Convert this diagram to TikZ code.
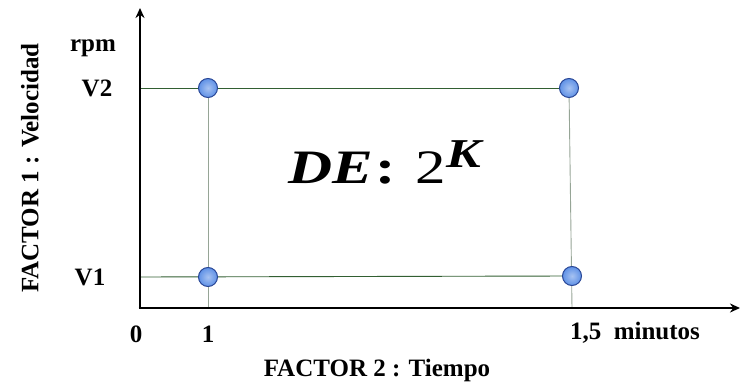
\documentclass[tikz,border=0pt]{standalone}
\usepackage{fontspec}
\setmainfont{Liberation Serif}
\usetikzlibrary{arrows.meta}
\definecolor{ptfill}{RGB}{95,145,230}
\definecolor{ptdraw}{RGB}{40,70,150}
\definecolor{hline}{RGB}{50,95,50}
\definecolor{vline}{RGB}{150,165,150}
\tikzset{
  pt/.style={circle,minimum size=19pt,inner sep=0pt,draw=ptdraw,line width=1pt,inner color=ptfill!55!white,outer color=ptfill},
  lab/.style={font=\fontsize{25}{27}\selectfont\bfseries,inner sep=0pt},
  axis/.style={line width=2.6pt,-{Stealth[length=10pt,width=9pt]}},
  hl/.style={draw=hline,line width=0.9pt},
  vl/.style={draw=vline,line width=0.9pt}
}
\begin{document}
\begin{tikzpicture}[x=1pt,y=-1pt]
\useasboundingbox (0,0) rectangle (740,390);
\coordinate (o) at (140,308);
\coordinate (ytop) at (140,8);
\coordinate (xend) at (740,308);
\coordinate (y2) at (140,88);
\coordinate (y1) at (140,277);
\coordinate (x1) at (208,308);
\coordinate (x2) at (572,308);
\coordinate (c12) at (208,88);
\coordinate (c11) at (208,277);
\coordinate (c22) at (569,88);
\coordinate (c21) at (572,276);
% grid lines
\draw[vl] (x1) -- (c12);
\draw[vl] (x2) -- (c22);
\draw[hl] (y2) -- (c22);
\draw[hl] (y1) -- (c21);
% points
\node[pt] (p12) at (c12) {};
\node[pt] (p11) at (c11) {};
\node[pt] (p22) at (c22) {};
\node[pt] (p21) at (c21) {};
% axes
\draw[axis] (o) -- (ytop);
\draw[axis] ([xshift=-1.3pt]o) -- (xend);
% labels
\node[lab] (rpm) at (93,48) {rpm};
\node[lab] (v2) at (97,88) {V2};
\node[lab] (v1) at (90,277) {V1};
\node[lab] (t0) at (136,334) {0};
\node[lab] (t1) at (208,334) {1};
\node[lab] (t15) at (635,333) {1,5~ minutos};
\node[lab] (f2) at (377,370) {FACTOR 2 : Tiempo};
\node[lab,rotate=90] (f1) at (30,168) {FACTOR 1 : Velocidad};
\node[inner sep=0pt,font=\fontsize{48}{52}\selectfont] (de) at (386,162) {\scalebox{1.27}[1]{\textbf{\textit{DE}}\hspace{2pt}\textbf{:}\hspace{16pt}2\raisebox{16pt}{\fontsize{41}{41}\selectfont\textbf{\textit{K}}}}};
\end{tikzpicture}
\end{document}
